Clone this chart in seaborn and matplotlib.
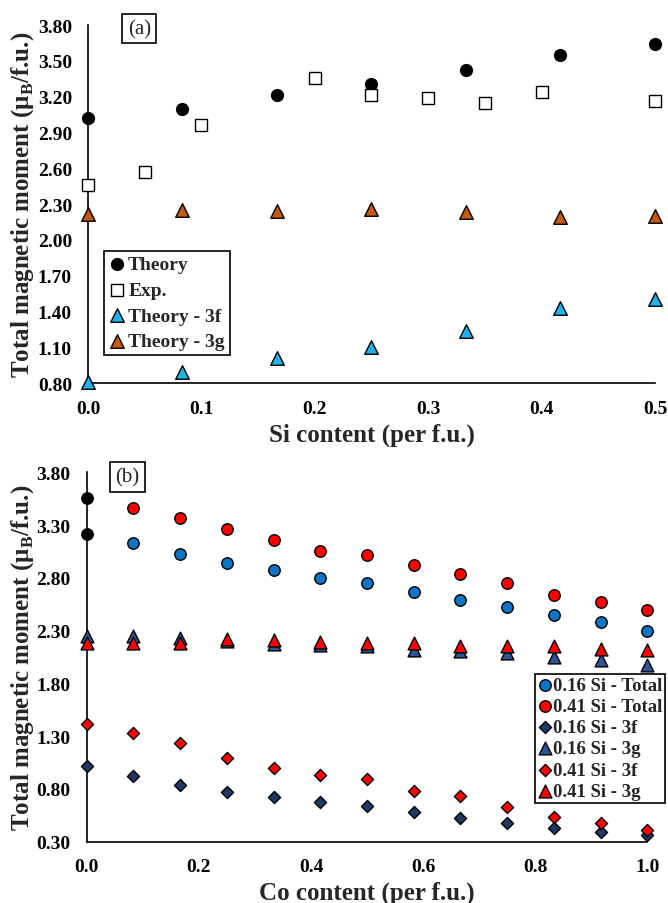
import numpy as np
import pandas as pd
import seaborn as sns
import matplotlib.pyplot as plt
from matplotlib.ticker import FormatStrFormatter

# ---- panel (a): Si content ----
si_theory = [0.0, 1/12, 2/12, 3/12, 4/12, 5/12, 6/12]
m_theory = [3.02, 3.10, 3.21, 3.31, 3.42, 3.55, 3.64]
m_3f = [0.81, 0.89, 1.01, 1.10, 1.24, 1.43, 1.50]
m_3g = [2.22, 2.25, 2.24, 2.26, 2.23, 2.19, 2.20]
si_exp = [0.0, 0.05, 0.10, 0.20, 0.25, 0.30, 0.35, 0.40, 0.50]
m_exp = [2.46, 2.57, 2.96, 3.36, 3.21, 3.19, 3.15, 3.24, 3.16]

# ---- panel (b): Co content ----
co = [i / 12 for i in range(13)]
tot_016 = [3.13, 3.03, 2.94, 2.87, 2.80, 2.75, 2.67, 2.59, 2.52, 2.45, 2.38, 2.30]
tot_041 = [3.46, 3.37, 3.26, 3.16, 3.05, 3.02, 2.92, 2.84, 2.75, 2.64, 2.57, 2.50]
co_free = [3.22, 3.56]
f_016 = [1.02, 0.92, 0.84, 0.77, 0.72, 0.68, 0.64, 0.58, 0.52, 0.48, 0.43, 0.39, 0.36]
g_016 = [2.25, 2.25, 2.23, 2.20, 2.17, 2.16, 2.15, 2.12, 2.11, 2.09, 2.05, 2.02, 1.97]
f_041 = [1.42, 1.33, 1.24, 1.09, 1.00, 0.93, 0.89, 0.78, 0.73, 0.63, 0.53, 0.48, 0.41]
g_041 = [2.18, 2.18, 2.18, 2.22, 2.21, 2.19, 2.18, 2.18, 2.15, 2.15, 2.15, 2.13, 2.12]

sns.set_style("white")
plt.rcParams['font.family'] = ['Liberation Serif', 'DejaVu Serif']
plt.rcParams['mathtext.fontset'] = 'custom'
plt.rcParams['mathtext.rm'] = 'Liberation Serif:bold'

fig = plt.figure(figsize=(6.68, 9.04), dpi=100)
ax1 = fig.add_axes([0.1317, 0.5752, 0.8488, 0.396])
ax2 = fig.add_axes([0.1298, 0.0678, 0.8392, 0.4086])

kw = dict(edgecolor='black', linewidth=1, clip_on=False, zorder=3)

def pts(x, y):
    return pd.DataFrame({'x': x, 'y': y})

d = pts(si_theory, m_theory)
sns.scatterplot(data=d, x='x', y='y', ax=ax1, marker='o', color='black', s=72, label='Theory', **kw)
d = pts(si_exp, m_exp)
sns.scatterplot(data=d, x='x', y='y', ax=ax1, marker='s', color='white', s=72, label='Exp.', **kw)
d = pts(si_theory, m_3f)
sns.scatterplot(data=d, x='x', y='y', ax=ax1, marker='^', color='#1fb3ea', s=95, label='Theory - 3f', **kw)
d = pts(si_theory, m_3g)
sns.scatterplot(data=d, x='x', y='y', ax=ax1, marker='^', color='#c55a11', s=95, label='Theory - 3g', **kw)

sns.scatterplot(data=pts(co[1:], tot_016), x='x', y='y', ax=ax2, marker='o', color='#0b74c4', s=68, label='0.16 Si - Total', **kw)
sns.scatterplot(data=pts(co[1:], tot_041), x='x', y='y', ax=ax2, marker='o', color='#ff0000', s=68, label='0.41 Si - Total', **kw)
sns.scatterplot(data=pts(co, f_016), x='x', y='y', ax=ax2, marker='D', color='#203864', s=38, label='0.16 Si - 3f', **kw)
sns.scatterplot(data=pts(co, g_016), x='x', y='y', ax=ax2, marker='^', color='#2f5597', s=85, label='0.16 Si - 3g', **kw)
sns.scatterplot(data=pts(co, f_041), x='x', y='y', ax=ax2, marker='D', color='#ff0000', s=38, label='0.41 Si - 3f', **kw)
sns.scatterplot(data=pts(co, g_041), x='x', y='y', ax=ax2, marker='^', color='#ff0000', s=85, label='0.41 Si - 3g', **kw)
sns.scatterplot(data=pts([0.0, 0.0], co_free), x='x', y='y', ax=ax2, marker='o', color='black', s=68, legend=False, **kw)

ylab = 'Total magnetic moment (μ$_\\mathrm{B}$/f.u.)'
for ax, xlim, ylim, xt, yt, xl, ylx in [
    (ax1, (0, 0.5), (0.8, 3.8), np.arange(0, 0.51, 0.1), np.arange(0.8, 3.81, 0.3), 'Si content (per f.u.)', -0.092),
    (ax2, (0, 1.0), (0.3, 3.8), np.arange(0, 1.01, 0.2), np.arange(0.3, 3.81, 0.5), 'Co content (per f.u.)', -0.090),
]:
    ax.set_xlim(*xlim)
    ax.set_ylim(*ylim)
    ax.set_xticks(xt)
    ax.set_yticks(yt)
    ax.xaxis.set_major_formatter(FormatStrFormatter('%.1f'))
    ax.yaxis.set_major_formatter(FormatStrFormatter('%.2f'))
    for s in ['top', 'right']:
        ax.spines[s].set_visible(False)
    for s in ['left', 'bottom']:
        ax.spines[s].set_color('black')
        ax.spines[s].set_linewidth(1.2)
    ax.tick_params(direction='in', length=5, width=1.2, colors='black', labelsize=14)
    ax.tick_params(axis='x', pad=12)
    ax.tick_params(axis='y', pad=11.5)
    for lab in ax.get_xticklabels() + ax.get_yticklabels():
        lab.set_fontweight('bold')
    ax.set_xlabel(xl, fontsize=18, fontweight='bold', labelpad=4)
    ax.set_ylabel(ylab, fontsize=18, fontweight='bold')
    ax.yaxis.set_label_coords(ylx, 0.5)

leg1 = ax1.legend(loc='upper left', bbox_to_anchor=(0.028, 0.37), frameon=True, fancybox=False,
                  edgecolor='black', framealpha=1, prop={'weight': 'bold', 'size': 14},
                  handletextpad=0.1, borderpad=0.25, labelspacing=0.42, handlelength=0.9, borderaxespad=0)
leg2 = ax2.legend(loc='upper left', bbox_to_anchor=(0.8, 0.455), frameon=True, fancybox=False,
                  edgecolor='black', framealpha=1, prop={'weight': 'bold', 'size': 13.5},
                  handletextpad=0.0, borderpad=0.15, labelspacing=0.22, handlelength=0.8, borderaxespad=0)
for leg in (leg1, leg2):
    leg.get_frame().set_linewidth(1.2)
    leg.set_zorder(5)

ax1.text(0.07, 0.99, '(a)', transform=ax1.transAxes, fontsize=15, va='center', ha='left',
         bbox=dict(boxstyle='square,pad=0.25', facecolor='white', edgecolor='black', linewidth=1.2))
ax2.text(0.051, 0.987, '(b)', transform=ax2.transAxes, fontsize=15, va='center', ha='left',
         bbox=dict(boxstyle='square,pad=0.25', facecolor='white', edgecolor='black', linewidth=1.2))

fig.savefig('out.png', dpi=100)
